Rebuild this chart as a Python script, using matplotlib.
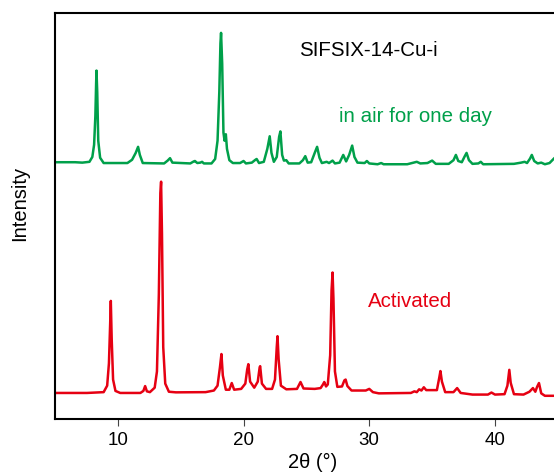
import numpy as np
import matplotlib
matplotlib.use("Agg")
import matplotlib.pyplot as plt

plt.rcParams['font.family'] = ['Liberation Sans', 'DejaVu Sans']

# (2theta, intensity a.u.), activated sample
act_trace = [
    (4.5, 0.7), (7.55, 0.7), (8.87, 0.9), (9.15, 2.5), (9.29, 8), (9.39, 18), (9.44, 23.4),
    (9.51, 14), (9.62, 4), (9.81, 1.2), (10.19, 0.7), (11.79, 0.7), (12.03, 1.2), (12.17, 2.4),
    (12.31, 1.1), (12.55, 0.9), (12.93, 2.0), (13.11, 6), (13.26, 25), (13.38, 50), (13.44, 52.8),
    (13.51, 40), (13.61, 12), (13.77, 3), (14.06, 1.0), (14.62, 0.85), (16.98, 0.9), (17.64, 1.3),
    (17.93, 2.5), (18.12, 7), (18.24, 10.3), (18.35, 5), (18.59, 1.5), (18.87, 1.5), (19.06, 3.15),
    (19.25, 1.5), (19.81, 1.7), (20.14, 3), (20.29, 6.5), (20.38, 7.8), (20.52, 3.5), (20.85, 2.0),
    (21.13, 3.5), (21.28, 7), (21.32, 7.3), (21.46, 3), (21.79, 1.7), (22.27, 1.7), (22.50, 4),
    (22.64, 12), (22.70, 14.7), (22.79, 9), (22.97, 2.5), (23.40, 1.6), (24.25, 1.7), (24.53, 3.4),
    (24.77, 1.8), (25.66, 1.7), (26.13, 1.9), (26.32, 2.8), (26.42, 3.4), (26.56, 2.3), (26.70, 2.8),
    (26.89, 10), (27.00, 26), (27.08, 30.4), (27.15, 24), (27.27, 6), (27.46, 2.2), (27.83, 2.3),
    (28.02, 3.8), (28.12, 4.0), (28.26, 2.4), (28.59, 1.3), (29.72, 1.3), (30.00, 1.7), (30.29, 0.9),
    (30.76, 0.6), (33.31, 0.7), (33.59, 1.1), (33.78, 0.9), (33.97, 1.6), (34.15, 1.3), (34.34, 2.1),
    (34.53, 1.4), (35.38, 1.4), (35.57, 4.5), (35.66, 6.1), (35.78, 3.5), (36.04, 0.9), (36.70, 0.9),
    (36.99, 1.9), (37.27, 0.7), (38.21, 0.3), (39.44, 0.3), (39.72, 0.8), (40.00, 0.3), (40.76, 0.4),
    (40.99, 2.5), (41.14, 6.4), (41.25, 3.2), (41.51, 0.4), (42.27, 0.3), (42.74, 1.0), (43.02, 1.9),
    (43.21, 1.0), (43.35, 2.2), (43.50, 3.15), (43.68, 0.6), (43.97, 0.0), (46.0, 0.0),
]

# same sample after one day in air
air_trace = [
    (4.5, 0.7), (6.60, 0.7), (7.17, 0.6), (7.74, 0.8), (7.97, 2), (8.11, 5), (8.21, 12), (8.27, 20),
    (8.30, 23.3), (8.36, 18), (8.44, 6), (8.59, 1.8), (8.87, 0.5), (10.76, 0.5), (11.13, 1.3),
    (11.42, 3), (11.61, 4.5), (11.75, 2.5), (11.98, 0.5), (13.68, 0.4), (13.96, 1.1), (14.15, 1.7),
    (14.34, 0.6), (15.76, 0.4), (16.04, 0.9), (16.13, 1.0), (16.32, 0.5), (16.56, 0.6), (16.70, 0.8),
    (16.84, 0.4), (17.45, 0.4), (17.74, 1.5), (17.93, 6), (18.07, 18), (18.16, 30), (18.21, 32.6),
    (18.30, 25), (18.40, 8), (18.49, 6), (18.59, 7.6), (18.68, 4), (18.87, 1.2), (19.15, 0.5),
    (19.72, 0.5), (20.00, 1.0), (20.19, 0.4), (20.66, 0.6), (20.90, 1.2), (21.04, 1.5), (21.23, 0.5),
    (21.61, 0.8), (21.89, 4), (22.08, 7.1), (22.22, 3), (22.41, 0.8), (22.64, 2), (22.83, 7),
    (22.93, 8.3), (23.07, 2.5), (23.21, 1.1), (23.40, 1.2), (23.59, 0.4), (24.44, 0.4), (24.72, 1.2),
    (24.91, 2.2), (25.10, 0.6), (25.38, 0.7), (25.66, 3), (25.85, 4.5), (26.04, 1.8), (26.23, 0.5),
    (26.61, 0.8), (26.80, 0.5), (27.08, 1.1), (27.27, 0.4), (27.64, 0.6), (27.93, 2.5), (28.16, 0.9),
    (28.40, 2.5), (28.64, 4.8), (28.82, 2.0), (29.06, 0.6), (29.63, 0.5), (29.81, 1.0), (30.00, 0.4),
    (30.66, 0.2), (30.95, 0.5), (31.14, 0.2), (33.02, 0.2), (33.40, 0.5), (33.78, 0.8), (34.06, 0.4),
    (34.63, 0.5), (35.00, 1.1), (35.29, 0.3), (36.32, 0.3), (36.70, 1.2), (36.89, 2.5), (37.08, 1.0),
    (37.36, 0.7), (37.60, 2.2), (37.74, 3.0), (37.93, 1.2), (38.21, 0.3), (38.68, 0.4), (38.87, 0.8),
    (39.06, 0.2), (41.51, 0.3), (42.08, 0.6), (42.36, 0.8), (42.55, 0.5), (42.79, 1.6), (42.93, 2.5),
    (43.12, 1.0), (43.40, 0.4), (43.68, 0.6), (43.97, 0.2), (44.34, 0.5), (44.72, 1.7), (45.29, 3.0),
]

act_2theta, act_int = np.array(act_trace).T
air_2theta, air_int = np.array(air_trace).T

x_ticks = [10, 20, 30, 40]

RED = '#E60012'
GREEN = '#00A04A'
act_offset = 5.6
air_offset = 62.5

fig = plt.figure(figsize=(5.54, 4.77), dpi=100)
# axes runs past the right edge, the reference is cropped there
ax = fig.add_axes([55 / 554, 57.5 / 477, 515.4 / 554, 405.5 / 477])

ax.plot(act_2theta, act_int + act_offset, color=RED, lw=1.8)
ax.plot(air_2theta, air_int + air_offset, color=GREEN, lw=1.8)

ax.set_xlim(5, 46)
ax.set_ylim(0, 100)
ax.set_xticks(x_ticks)
ax.set_yticks([])

for side in ['left', 'bottom', 'top']:
    ax.spines[side].set_linewidth(1.5)
ax.spines['right'].set_visible(False)
ax.tick_params(axis='x', direction='out', length=5, width=0.8, color='#444444',
               labelsize=13.5, pad=4)

ax.set_xlabel('2θ (°)', fontsize=14.5, labelpad=3)
ax.set_ylabel('Intensity', fontsize=14.5)
ax.yaxis.set_label_coords(-0.051, 0.534)

ax.text(29.96, 91.1, 'SIFSIX-14-Cu-i', fontsize=14.8, color='black', ha='center', va='center')
ax.text(33.7, 74.6, 'in air for one day', fontsize=14.8, color=GREEN, ha='center', va='center')
ax.text(33.26, 29.05, 'Activated', fontsize=14.8, color=RED, ha='center', va='center')

fig.savefig('out.png', dpi=100)
